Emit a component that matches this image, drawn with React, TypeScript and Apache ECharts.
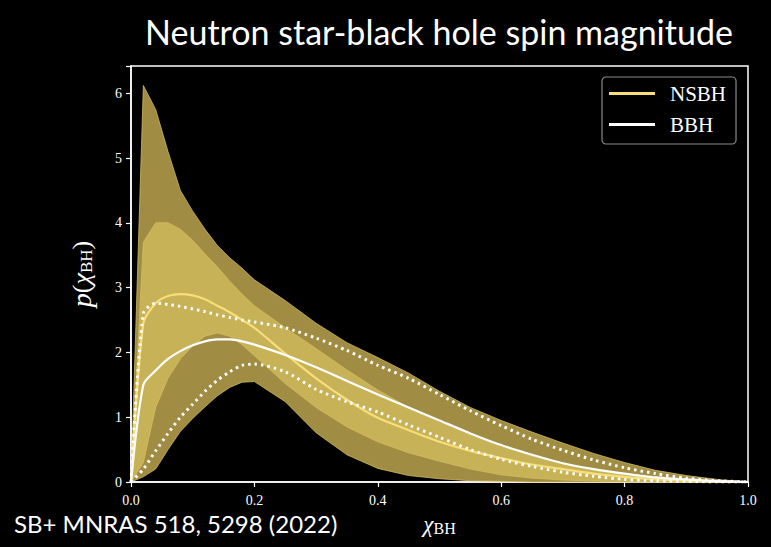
import React, { useEffect, useRef } from "react";
import * as echarts from "echarts";

// Spin magnitude grid (chi_BH)
const chi = [0, 0.02, 0.04, 0.06, 0.08, 0.1, 0.12, 0.14, 0.16, 0.18, 0.2, 0.25, 0.3, 0.35, 0.4, 0.45, 0.5, 0.55, 0.6, 0.65, 0.7, 0.75, 0.8, 0.85, 0.9, 0.95, 1.0];

// NSBH population: 90% band, 50% band and median
const nsbh90Upper = [0, 6.12, 5.75, 5.1, 4.5, 4.18, 3.9, 3.65, 3.46, 3.3, 3.12, 2.8, 2.45, 2.15, 1.92, 1.68, 1.4, 1.15, 0.95, 0.77, 0.6, 0.44, 0.3, 0.18, 0.1, 0.04, 0];
const nsbh90Lower = [0, 0.08, 0.2, 0.5, 0.78, 0.98, 1.16, 1.33, 1.46, 1.54, 1.55, 1.24, 0.76, 0.42, 0.21, 0.1, 0.05, 0.02, 0.01, 0, 0, 0, 0, 0, 0, 0, 0];
const nsbh50Upper = [0, 3.7, 4.0, 4.0, 3.9, 3.73, 3.52, 3.32, 3.1, 2.9, 2.72, 2.38, 2.06, 1.73, 1.42, 1.15, 0.92, 0.72, 0.55, 0.4, 0.28, 0.18, 0.11, 0.06, 0.025, 0.008, 0];
const nsbh50Lower = [0, 0.3, 1.15, 1.6, 1.9, 2.1, 2.25, 2.3, 2.25, 2.12, 1.95, 1.52, 1.15, 0.85, 0.62, 0.45, 0.32, 0.2, 0.11, 0.06, 0.03, 0.015, 0.005, 0, 0, 0, 0];
const nsbhMedian = [0, 2.45, 2.76, 2.87, 2.9, 2.88, 2.82, 2.72, 2.62, 2.5, 2.38, 1.98, 1.6, 1.27, 0.99, 0.8, 0.62, 0.48, 0.37, 0.27, 0.2, 0.13, 0.08, 0.04, 0.02, 0.005, 0];

// BBH population: median and 90% bounds
const bbhMedian = [0, 1.5, 1.72, 1.9, 2.02, 2.11, 2.17, 2.2, 2.2, 2.17, 2.12, 1.96, 1.77, 1.56, 1.35, 1.15, 0.95, 0.75, 0.57, 0.42, 0.29, 0.2, 0.13, 0.07, 0.04, 0.015, 0];
const bbh90Upper = [0, 2.6, 2.76, 2.74, 2.71, 2.67, 2.63, 2.58, 2.54, 2.5, 2.47, 2.38, 2.22, 2.03, 1.8, 1.6, 1.35, 1.1, 0.87, 0.66, 0.49, 0.34, 0.22, 0.13, 0.06, 0.02, 0];
const bbh90Lower = [0, 0.2, 0.48, 0.75, 1.0, 1.2, 1.4, 1.57, 1.7, 1.8, 1.82, 1.7, 1.43, 1.24, 1.08, 0.88, 0.69, 0.5, 0.35, 0.24, 0.15, 0.09, 0.04, 0.02, 0.01, 0, 0];

const xTicks = [0, 0.2, 0.4, 0.6, 0.8, 1.0];
const yTicks = [0, 1, 2, 3, 4, 5, 6];

const SERIF = "'Liberation Serif', 'DejaVu Serif', serif";
const SANS = "Lato, 'Open Sans', sans-serif";

const pairs = (ys: number[]) => chi.map((x, i) => [x, ys[i]]);

const OUTER = "#a08c42";
const INNER = "#c8b258";
const EDGE = "rgba(214,190,96,0.95)";
const NSBH_LINE = "#f7de78";

// Filled credible band between two curves, drawn as one polygon in data coordinates
function bandSeries(lo: number[], hi: number[], fill: string, z: number) {
  return {
    type: "custom",
    z,
    silent: true,
    data: chi.map((x, i) => [x, lo[i], hi[i]]),
    encode: { x: 0, y: [1, 2] },
    renderItem: (params: any, api: any) => {
      if (params.dataIndex !== 0) return null;
      const top = chi.map((x, i) => api.coord([x, hi[i]]));
      const bottom = chi.map((x, i) => api.coord([x, lo[i]])).reverse();
      return {
        type: "polygon",
        shape: { points: [...top, ...bottom] },
        style: { fill, stroke: EDGE, lineWidth: 0.8 },
      };
    },
  };
}

export default function App() {
  const ref = useRef<HTMLDivElement>(null);

  useEffect(() => {
    document.body.style.margin = "0";
    document.body.style.background = "#000";
    const chart = echarts.init(ref.current!, undefined, { renderer: "svg" });

    const curve = (name: string | undefined, ys: number[], color: string, width: number, dotted: boolean) => ({
      name,
      type: "line",
      data: pairs(ys),
      symbol: "none",
      smooth: 0.25,
      z: 4,
      silent: true,
      itemStyle: { color },
      lineStyle: { color, width, type: dotted ? [2.5, 4] : "solid" },
    });

    const option: any = {
      animation: false,
      backgroundColor: "#000",
      title: {
        text: "Neutron star-black hole spin magnitude",
        left: 434,
        textAlign: "center",
        top: 9,
        textStyle: { color: "#fff", fontFamily: SANS, fontSize: 34, fontWeight: "normal" },
      },
      grid: {
        left: 131,
        right: 23,
        top: 66,
        bottom: 65,
        show: true,
        borderColor: "#fff",
        borderWidth: 1.5,
        backgroundColor: "transparent",
      },
      legend: {
        orient: "vertical",
        left: 602,
        top: 77,
        data: ["NSBH", "BBH"],
        icon: "rect",
        itemWidth: 46,
        itemHeight: 3,
        itemGap: 10,
        padding: [6, 10, 9, 7],
        borderColor: "#8a8a8a",
        borderWidth: 1.2,
        borderRadius: 4,
        backgroundColor: "#000",
        textStyle: { color: "#fff", fontFamily: SERIF, fontSize: 21, lineHeight: 20, padding: [0, 0, 0, 10] },
      },
      xAxis: {
        type: "value",
        min: xTicks[0],
        max: xTicks[xTicks.length - 1],
        interval: 0.2,
        axisLine: { show: true, lineStyle: { color: "#fff", width: 1.5 } },
        axisTick: { show: true, length: 5, lineStyle: { color: "#fff", width: 1.2 } },
        splitLine: { show: false },
        axisLabel: {
          color: "#fff",
          fontFamily: SERIF,
          fontSize: 14,
          margin: 11,
          formatter: (v: number) => v.toFixed(1),
        },
        name: "{c|χ}{s|BH}",
        nameLocation: "middle",
        nameGap: 30,
        nameTextStyle: {
          color: "#fff",
          rich: {
            c: { fontFamily: SERIF, fontStyle: "italic", fontSize: 23, color: "#fff", lineHeight: 24 },
            s: { fontFamily: SERIF, fontSize: 16, color: "#fff", verticalAlign: "bottom", lineHeight: 24 },
          },
        },
      },
      yAxis: {
        type: "value",
        min: yTicks[0],
        max: 6.42,
        interval: 1,
        axisLine: { show: true, lineStyle: { color: "#fff", width: 1.5 } },
        axisTick: { show: true, length: 5, lineStyle: { color: "#fff", width: 1.2 } },
        splitLine: { show: false },
        axisLabel: {
          color: "#fff",
          fontFamily: SERIF,
          fontSize: 14,
          margin: 9,
          formatter: (v: number) => (yTicks.includes(v) ? String(v) : ""),
        },
        name: "{p|p}{b|(}{c|χ}{s|BH}{b|)}",
        nameLocation: "middle",
        nameRotate: 90,
        nameGap: 36,
        nameTextStyle: {
          color: "#fff",
          rich: {
            p: { fontFamily: SERIF, fontStyle: "italic", fontSize: 28, color: "#fff", lineHeight: 28 },
            b: { fontFamily: SERIF, fontSize: 26, color: "#fff", lineHeight: 28 },
            c: { fontFamily: SERIF, fontStyle: "italic", fontSize: 26, color: "#fff", lineHeight: 28 },
            s: { fontFamily: SERIF, fontSize: 17, color: "#fff", verticalAlign: "bottom", lineHeight: 28 },
          },
        },
      },
      graphic: [
        {
          type: "text",
          left: 14,
          top: 511,
          style: {
            text: "SB+ MNRAS 518, 5298 (2022)",
            fill: "#fff",
            font: `24px ${SANS}`,
            lineHeight: 22,
          },
        },
      ],
      series: [
        bandSeries(nsbh90Lower, nsbh90Upper, OUTER, 1),
        bandSeries(nsbh50Lower, nsbh50Upper, INNER, 2),
        curve("NSBH", nsbhMedian, NSBH_LINE, 2.2, false),
        curve("BBH", bbhMedian, "#fff", 2.2, false),
        curve(undefined, bbh90Upper, "#fff", 3, true),
        curve(undefined, bbh90Lower, "#fff", 3, true),
      ],
    };

    chart.setOption(option);
    return () => chart.dispose();
  }, []);

  return (
    <div
      ref={ref}
      style={{ position: "fixed", left: 0, top: 0, width: 771, height: 547, background: "#000" }}
    />
  );
}
